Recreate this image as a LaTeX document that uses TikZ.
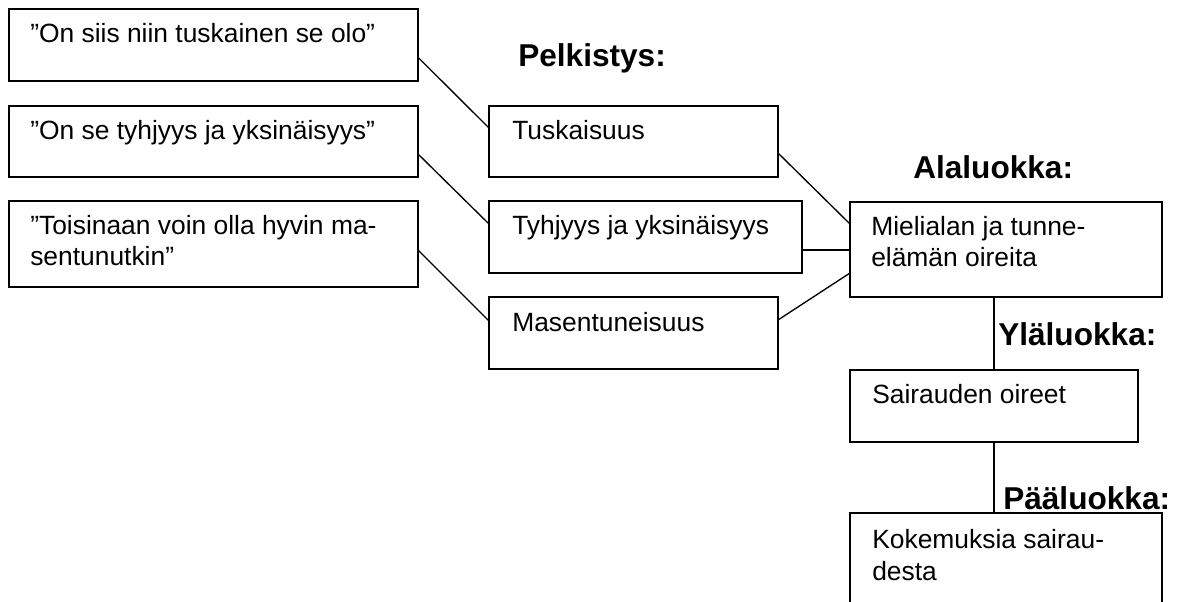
\documentclass[tikz,border=0pt]{standalone}
\usepackage{fontspec}
\setmainfont{Liberation Sans}
\usetikzlibrary{calc}
\tikzset{
  box/.style 2 args={draw, line width=1.4pt, rectangle, anchor=north west,
    inner sep=0pt, outer sep=0pt, minimum width=#1*0.75pt, minimum height=#2*0.75pt},
  txt/.style={anchor=base west, inner sep=0pt, align=left,
    font=\fontsize{19.8}{23.3}\selectfont},
  head/.style={anchor=base west, inner sep=0pt,
    font=\fontsize{23.7}{28}\selectfont\bfseries},
  conn/.style={line width=1pt},
}
\begin{document}
\begin{tikzpicture}[x=0.75pt,y=-0.75pt]
\useasboundingbox (0,0) rectangle (1181,602);
\clip (0,0) rectangle (1181,602);
% quote boxes
\node[box={408.7}{71.7}] (q1) at (9.3,9.3) {};
\node[box={408.7}{71}] (q2) at (9.3,106) {};
\node[box={408.7}{86}] (q3) at (9.3,201) {};
% reduced expressions
\node[box={289}{71}] (t1) at (489,106) {};
\node[box={313}{72}] (t2) at (489,201) {};
\node[box={289}{72}] (t3) at (489,297) {};
% categories
\node[box={312}{95}] (m) at (850,202) {};
\node[box={288}{72}] (s) at (850,370) {};
\node[box={312}{120}] (k) at (850,513) {};
% texts (multi-line nodes: base = last line)
\node[txt] (q1t) at (30,43) {”On siis niin tuskainen se olo”};
\node[txt] (q2t) at (30,140) {”On se tyhjyys ja yksinäisyys”};
\node[txt] (q3t) at (30,266) {”Toisinaan voin olla hyvin ma-\\sentunutkin”};
\node[txt] (t1t) at (512,140) {Tuskaisuus};
\node[txt] (t2t) at (512,235) {Tyhjyys ja yksinäisyys};
\node[txt] (t3t) at (512,331) {Masentuneisuus};
\node[txt] (mt) at (871,267) {Mielialan ja tunne-\\elämän oireita};
\node[txt] (st) at (872,403) {Sairauden oireet};
\node[txt] (kt) at (872,580) {Kokemuksia sairau-\\desta};
% headings
\node[head] (h1) at (518,67) {Pelkistys:};
\node[head] (h2) at (913,179) {Alaluokka:};
\node[head] (h3) at (998,345) {Yläluokka:};
\node[head] (h4) at (1003,509) {Pääluokka:};
% connectors
\draw[conn] ($(q1.north east)+(0,48)$) -- ($(t1.north west)+(0,22)$);
\draw[conn] ($(q2.north east)+(0,48)$) -- ($(t2.north west)+(0,23)$);
\draw[conn] ($(q3.north east)+(0,49)$) -- ($(t3.north west)+(0,24)$);
\draw[conn] ($(t1.north east)+(0,47)$) -- ($(m.north west)+(0,22)$);
\draw[conn] ($(t2.north east)+(0,49)$) -- ($(m.north west)+(0,48)$);
\draw[conn] ($(t3.north east)+(0,23)$) -- ($(m.north west)+(0,71)$);
\draw[conn] ($(m.south west)+(144,0)$) -- ($(s.north west)+(144,0)$);
\draw[conn] ($(s.south west)+(144,0)$) -- ($(k.north west)+(144,0)$);
\end{tikzpicture}
\end{document}
